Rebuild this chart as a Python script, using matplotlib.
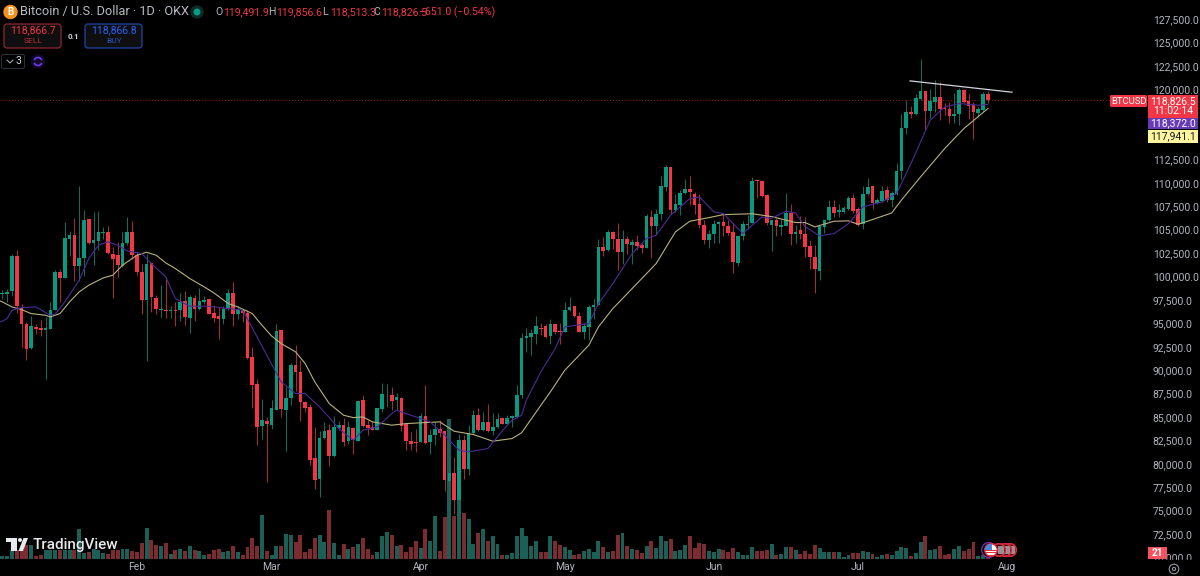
import matplotlib
matplotlib.use("Agg")
import matplotlib.pyplot as plt
from matplotlib.patches import Circle, Rectangle, FancyBboxPatch, Polygon, Arc
from matplotlib.ticker import FuncFormatter

plt.rcParams['font.family'] = ['Roboto', 'DejaVu Sans']

# Daily candles, prices in thousands of USD; [open, high, low, close]
candles = [
[98.11,98.61,97.64,98.25],[98.14,98.71,97.29,98.32],[98.46,102.45,97.89,102.20],[102.20,102.81,96.11,96.83],
[96.68,97.11,92.48,94.94],[94.90,95.15,91.13,92.30],[92.38,95.76,92.23,94.69],[94.58,94.90,93.91,94.44],
[94.48,95.33,93.66,94.26],[94.33,95.69,89.10,94.48],[94.37,97.29,94.37,96.47],[96.40,100.67,96.40,100.49],
[100.46,100.81,97.29,99.85],[99.89,105.83,99.89,104.09],[104.05,104.84,102.24,104.41],[104.41,106.22,99.53,101.13],
[101.13,109.64,99.53,102.02],[101.95,107.15,100.06,106.08],[106.12,106.12,103.45,103.59],[103.59,106.86,101.20,103.87],
[103.80,107.01,102.81,104.80],[104.66,105.30,104.05,104.73],[104.76,105.44,102.45,102.56],[102.41,103.16,97.72,101.84],
[102.27,103.70,99.96,101.20],[101.13,104.73,101.03,103.59],[103.62,106.37,103.34,104.73],[104.73,105.90,101.92,102.27],
[102.31,102.63,100.14,100.49],[100.46,101.31,96.04,97.54],[97.50,102.38,90.99,101.35],[101.42,101.56,96.22,97.82],
[97.75,98.00,96.04,96.50],[96.43,99.07,95.69,96.54],[96.43,99.96,95.61,96.36],[96.36,96.83,95.61,96.43],
[96.40,97.29,94.69,96.33],[96.40,98.28,95.26,97.25],[97.39,98.43,94.80,95.65],[95.58,98.00,93.98,97.82],
[97.72,98.00,95.26,96.50],[96.50,98.82,96.40,97.43],[97.25,97.89,97.11,97.47],[97.57,97.57,95.97,96.01],
[96.15,96.93,95.15,95.61],[95.76,96.75,93.37,95.47],[95.47,96.83,94.97,96.58],[96.50,98.64,96.40,98.28],
[98.28,99.42,94.76,96.01],[96.01,96.83,95.51,96.47],[96.40,96.40,95.15,96.11],[96.15,96.40,91.24,91.31],
[91.41,92.48,85.97,88.46],[88.49,89.10,81.98,83.97],[84.04,86.89,82.62,84.65],[84.58,85.00,78.06,84.29],
[84.12,86.78,83.76,85.93],[85.79,94.90,85.79,94.19],[94.26,94.26,85.00,85.86],[85.79,88.21,81.37,87.03],
[87.03,90.81,86.25,90.52],[90.56,92.66,87.78,89.78],[89.78,91.05,84.58,86.64],[86.61,86.68,85.54,86.00],
[86.07,86.36,79.84,80.38],[80.66,83.94,77.35,78.28],[78.35,83.47,76.46,82.73],[82.73,84.47,82.69,83.54],
[83.58,84.22,79.77,80.87],[80.87,85.11,80.73,83.90],[83.79,84.58,83.58,84.19],[84.19,84.93,81.87,82.37],
[82.44,84.58,82.16,83.94],[83.87,83.94,81.02,82.51],[82.41,86.86,82.41,86.68],[86.78,87.32,83.94,84.04],
[84.12,84.65,83.05,83.87],[83.94,84.58,83.58,83.65],[83.65,86.00,83.58,86.00],[85.86,88.67,85.54,87.43],
[87.21,88.49,86.07,87.28],[87.32,88.21,85.79,86.71],[86.78,87.60,85.72,87.10],[87.03,87.14,83.47,84.04],
[84.22,84.40,81.52,82.48],[82.48,83.40,81.44,82.16],[82.30,83.76,81.27,82.23],[82.30,85.43,82.30,85.11],
[85.08,88.39,82.16,82.26],[82.30,83.76,81.09,83.05],[83.05,84.47,81.98,83.69],[83.76,84.65,82.87,83.33],
[83.47,83.47,77.07,78.24],[78.20,81.09,78.06,79.02],[79.02,80.73,74.68,76.10],[76.10,83.22,74.50,82.58],
[82.55,83.05,78.35,79.41],[79.41,84.19,78.85,83.30],[83.30,85.79,83.15,85.18],[85.18,86.00,83.47,83.58],
[83.58,85.54,83.51,84.51],[84.51,86.36,83.40,83.51],[83.51,85.47,83.05,83.94],[83.94,85.43,83.87,84.83],
[84.93,85.00,84.22,84.29],[84.29,85.18,84.22,84.93],[84.90,85.18,83.94,85.15],[85.00,88.39,84.93,87.39],
[87.32,93.98,87.07,93.45],[93.45,94.55,91.95,93.62],[93.55,94.44,91.59,93.94],[93.90,95.76,92.77,94.69],
[94.55,95.08,93.73,94.41],[94.69,94.97,93.48,93.55],[93.62,95.51,92.77,94.90],[94.90,94.97,93.90,94.12],
[94.23,95.05,92.84,94.12],[94.05,97.29,94.05,96.40],[96.40,97.82,96.33,96.79],[96.82,96.86,95.69,95.76],
[95.76,96.22,94.08,94.08],[94.05,95.08,93.37,94.69],[94.62,96.93,93.27,96.72],[96.75,97.64,95.51,96.93],
[96.93,104.05,96.93,103.16],[103.16,104.23,102.20,102.77],[102.81,104.94,102.73,104.73],[104.76,104.83,102.98,103.98],
[103.98,105.76,100.67,102.63],[102.63,104.94,101.31,103.98],[104.02,104.34,102.45,103.48],[103.34,104.05,101.38,103.70],
[103.70,104.48,102.88,103.30],[103.34,103.70,102.52,103.06],[103.09,106.65,103.09,106.51],[106.37,107.08,101.99,105.44],
[105.44,107.26,104.51,106.72],[106.72,110.71,106.08,109.68],[109.53,111.88,109.14,111.71],[111.67,111.67,106.72,107.15],
[107.15,108.86,106.90,107.72],[107.65,109.29,106.55,108.93],[108.90,110.39,108.79,109.36],[109.36,110.71,107.61,109.04],
[108.86,109.04,106.72,107.65],[107.72,108.79,105.23,105.48],[105.51,106.01,103.52,103.87],[103.87,104.94,103.09,104.59],
[104.51,106.01,103.63,105.58],[105.58,105.94,103.63,105.87],[105.80,106.72,104.30,105.41],[105.37,106.01,104.41,104.66],
[104.73,105.66,100.39,101.56],[101.46,104.34,101.13,104.30],[104.30,105.94,103.87,105.58],[105.51,106.55,105.12,105.62],
[105.66,110.64,105.66,110.25],[110.28,110.35,108.43,110.21],[110.25,110.28,108.50,108.61],[108.68,108.86,105.48,105.66],
[105.47,106.08,102.73,106.01],[106.01,106.29,104.30,105.40],[105.33,106.19,104.41,105.51],[105.40,108.96,105.40,106.75],
[106.75,107.71,103.34,104.51],[104.51,105.47,103.59,104.80],[104.94,106.44,103.98,104.55],[104.59,106.37,102.09,103.16],
[103.23,103.87,100.85,102.09],[102.09,103.34,98.25,100.85],[100.63,105.37,99.67,105.37],[105.30,106.08,104.66,106.01],
[106.01,108.15,105.94,107.40],[107.40,108.22,106.37,106.79],[106.86,107.71,106.37,107.08],[106.93,107.51,106.79,107.29],
[107.26,108.57,107.08,108.39],[108.36,108.79,106.79,107.00],[107.19,107.43,105.37,105.55],[105.65,109.71,105.12,108.79],
[108.79,110.57,108.68,109.57],[109.64,109.75,107.26,107.86],[107.86,108.39,107.71,108.22],[108.11,109.68,107.97,109.14],
[109.21,109.64,107.97,108.22],[108.15,109.14,107.43,108.89],[108.82,112.13,108.75,111.25],[111.25,117.40,110.46,115.91],
[115.91,118.90,115.20,117.58],[117.58,118.19,116.94,117.33],[117.33,119.54,117.22,119.08],[119.00,123.20,118.90,119.82],
[119.82,119.82,115.70,117.65],[117.65,120.07,116.98,118.69],[118.61,120.96,117.58,119.22],[119.22,120.78,116.76,117.87],
[118.01,118.58,117.22,117.90],[117.87,118.65,116.44,117.19],[117.12,119.65,116.44,117.40],[117.33,120.18,116.16,119.90],
[119.90,120.07,118.58,118.65],[118.72,119.54,116.87,118.22],[118.29,118.65,114.66,117.54],[117.44,118.11,117.04,117.87],
[117.80,119.72,117.69,119.47],[119.49,119.86,118.51,118.83],
]
opens = [c[0] for c in candles]
highs = [c[1] for c in candles]
lows = [c[2] for c in candles]
closes = [c[3] for c in candles]

volumes = [10,9,27,27,27,42,42,9,12,27,27,27,27,27,27,27,90,17,22,29,27,17,15,27,27,29,30,24,20,48,92,57,42,39,47,15,27,29,24,39,
27,24,12,14,27,31,20,24,38,20,13,35,64,39,132,24,13,39,39,75,73,51,72,20,30,62,72,51,147,48,12,44,30,37,46,64,30,12,20,70,
81,72,39,42,22,37,53,33,90,53,130,24,126,420,129,237,137,121,46,77,90,53,69,44,12,12,17,70,92,68,39,55,20,22,70,55,42,37,27,12,
15,24,29,22,53,36,22,24,71,77,38,29,27,18,38,55,33,69,53,60,25,27,42,69,33,48,44,24,22,29,27,20,33,22,12,12,36,24,24,27,
44,13,15,36,36,27,15,24,15,42,33,22,22,20,20,6,12,18,18,24,20,15,6,12,15,12,24,36,33,9,18,51,69,27,30,39,12,15,30,38,
24,30,51,10,12,9]

slow_days = [-1,0,2,4,6,9,10,12,14,16,18,21,23,25,28,30,32,34,36,39,42,44,47,49,52,54,56,58,61,63,65,68,71,73,75,77,81,84,88,91,94,98,102,106,108,
113,114,117,122,124,127,131,136,140,143,147,150,156,160,165,167,169,173,176,178,181,185,187,191,196,200,205]
slow_ma = [97.5,97.29,96.75,96.47,96.04,95.86,95.69,96.04,97.29,98.36,99.07,99.85,100.14,101.20,102.27,102.59,102.27,101.45,100.85,99.78,98.89,98.25,97.11,96.75,96.04,94.80,93.65,92.84,91.95,90.70,88.74,86.43,85.18,84.93,85.00,84.47,84.12,84.29,84.40,84.47,83.47,83.12,82.41,82.69,83.30,
86.96,87.68,89.99,92.66,94.62,96.58,98.71,101.38,104.76,105.90,106.29,106.61,106.70,106.40,105.76,105.76,105.30,105.90,105.94,105.58,106.08,106.79,108.15,110.64,113.66,115.80,117.94]

fast_days = [-1,0,1,2,4,7,10,11,13,16,18,20,22,24,26,29,31,34,36,39,43,47,50,53,56,58,61,63,66,68,70,73,75,78,81,82,86,89,92,95,97,101,104,106,108,
109,112,115,117,122,124,127,131,134,136,139,143,145,148,150,154,156,158,160,163,165,167,170,173,176,179,183,186,189,193,196,199,203,205]
fast_ma = [95.1,95.22,95.51,96.40,96.68,96.75,95.86,95.97,97.29,99.60,101.92,103.34,103.70,103.34,102.73,102.45,101.38,99.96,97.64,96.82,96.82,96.58,96.40,93.55,90.65,88.74,87.50,87.50,86.07,84.93,83.76,82.51,83.58,83.94,85.36,85.72,85.00,84.47,83.05,81.44,81.27,81.62,83.51,84.65,85.18,
86.78,89.81,92.30,94.62,94.97,97.11,99.24,102.45,104.05,104.41,106.54,108.32,108.50,106.90,106.72,104.59,105.48,106.36,106.20,106.97,106.79,105.30,104.33,104.59,105.65,107.43,107.97,108.86,112.06,116.69,118.11,118.47,118.29,118.37]

trend_days = [188.8, 210.0]
trend_prices = [120.89, 119.68]

price_ticks = [70,72.5,75,77.5,80,82.5,85,87.5,90,92.5,95,97.5,100,102.5,105,107.5,110,112.5,120,122.5,125,127.5]
month_days = [28,56,87,117,148,178,209]
month_labels = ['Feb','Mar','Apr','May','Jun','Jul','Aug']

last_price = 118.8265

UP, DOWN = '#089981', '#f23645'
UP_VOL, DOWN_VOL = '#1b5f56', '#7c2c30'
GREY = '#b2b5be'
BLACK = '#000000'

W, H = 1200, 576
fig = plt.figure(figsize=(12, 5.76), dpi=100, facecolor=BLACK)
rect = [0, (H - 559) / H, 1148 / W, 559 / H]

days = list(range(len(candles)))
is_up = [c >= o for o, c in zip(opens, closes)]

# volume pane, same area as the price pane, below it
axv = fig.add_axes(rect, facecolor=BLACK, zorder=1)
axv.bar(days, volumes, width=0.82, color=[UP_VOL if u else DOWN_VOL for u in is_up], linewidth=0)
axv.set_ylim(0, 1677)
axv.set_xlim(-0.478, 238.3)
axv.axis('off')

ax = fig.add_axes(rect, zorder=2)
ax.patch.set_alpha(0)
for s in ax.spines.values():
    s.set_visible(False)
colors = [UP if u else DOWN for u in is_up]
wick_colors = ['#0b6f5f' if u else '#a82a35' for u in is_up]
ax.vlines(days, lows, highs, colors=wick_colors, linewidth=0.72, zorder=2)
ax.bar(days, [abs(c - o) for o, c in zip(opens, closes)], bottom=[min(o, c) for o, c in zip(opens, closes)],
       width=0.76, color=colors, linewidth=0, zorder=3)
ax.plot(slow_days, slow_ma, color='#b8b27c', lw=0.8, zorder=4)
ax.plot(fast_days, fast_ma, color='#4b2c96', lw=0.8, zorder=4)
ax.plot(trend_days, trend_prices, color='#d1d4dc', lw=0.9, zorder=5)
ax.axhline(last_price, color='#8a2530', lw=0.7, ls=(0, (1, 2)), zorder=1)
ax.set_xlim(-0.478, 238.3)
ax.set_ylim(69.828, 129.529)
ax.yaxis.tick_right()
ax.set_yticks(price_ticks)
ax.yaxis.set_major_formatter(FuncFormatter(lambda v, p: f"{v * 1000:,.1f}"))
ax.set_xticks(month_days)
ax.set_xticklabels(month_labels)
ax.tick_params(axis='y', length=0, pad=3.4, labelsize=7.5, labelcolor=GREY)
ax.tick_params(axis='x', length=0, pad=2.4, labelsize=7.5, labelcolor=GREY)

# interface chrome in pixel coordinates
ui = fig.add_axes([0, 0, 1, 1], zorder=3)
ui.set_xlim(0, W)
ui.set_ylim(H, 0)
ui.axis('off')
ui.patch.set_alpha(0)


def label(x, y, s, color=GREY, size=7.5, ha='left', weight='normal', **kw):
    return ui.text(x, y, s, color=color, fontsize=size, ha=ha, va='center', fontweight=weight, **kw)


# cover the clipped tail of the lowest price label
ui.add_patch(Rectangle((1148, 559.5), 52, 17, color=BLACK, zorder=1))

# header
ui.add_patch(Circle((10.5, 12), 6.5, color='#f7931a', zorder=2))
label(10.5, 12, 'B', color='white', size=7, ha='center', weight='bold', zorder=3)
label(20, 12, 'Bitcoin / U.S. Dollar · 1D · OKX', size=9.2, color='#b8bbc4')
ui.add_patch(Circle((197, 12), 6, color='#0d2a26', zorder=2))
ui.add_patch(Circle((197, 12), 2.8, color=UP, zorder=3))
x = 215
for key, val, step in [('O', '119,491.9', 0), ('H', '119,856.6', 53), ('L', '118,513.3', 54), ('C', '118,826.5', 51)]:
    x += step
    label(x, 12, key, size=7.6)
    label(x + 8, 12, val, color=DOWN, size=7.6)
label(419, 12, '−651.0 (−0.54%)', color=DOWN, size=7.6)

# sell / buy
ui.add_patch(FancyBboxPatch((4, 24), 57, 24, boxstyle='round,pad=0,rounding_size=3', fc='#0f0f10', ec='#8f2630', lw=0.9))
ui.add_patch(FancyBboxPatch((85, 24), 57, 24, boxstyle='round,pad=0,rounding_size=3', fc='#0f0f10', ec='#1d47a8', lw=0.9))
label(33, 30.5, '118,866.7', color=DOWN, size=7.5, ha='center')
label(33, 41, 'SELL', color='#b92d38', size=6, ha='center')
label(114, 30.5, '118,866.8', color='#2962ff', size=7.5, ha='center')
label(114, 41, 'BUY', color='#2455c5', size=6, ha='center')
label(73, 36.5, '0.1', color='#d1d4dc', size=5.8, ha='center', weight='bold')

# collapsed indicators
ui.add_patch(FancyBboxPatch((1.5, 54.5), 23, 14, boxstyle='round,pad=0,rounding_size=2', fc=BLACK, ec='#2a2e39', lw=0.8))
ui.plot([7, 10, 13], [60, 63, 60], color='#b2b5be', lw=0.7)
label(18.5, 61.5, '3', color='#d1d4dc', size=7.5, ha='center')
ui.add_patch(Circle((38, 61.5), 6.5, color='#130a2a', zorder=2))
ui.add_patch(Arc((38, 61.5), 8, 8, theta1=20, theta2=160, color='#6a3df0', lw=1.2, zorder=3))
ui.add_patch(Arc((38, 61.5), 8, 8, theta1=200, theta2=340, color='#6a3df0', lw=1.2, zorder=3))

# price tags
ui.add_patch(FancyBboxPatch((1110, 95), 37, 12, boxstyle='round,pad=0,rounding_size=1.5', fc=DOWN, ec='none'))
label(1128.5, 101, 'BTCUSD', color='white', size=6.8, ha='center')
ui.add_patch(Rectangle((1148, 95), 50, 22.5, fc=DOWN, ec='none', zorder=2))
label(1173, 101, '118,826.5', color='white', size=7.5, ha='center', zorder=3)
label(1173, 111, '11:02:14', color='white', size=7.5, ha='center', zorder=3)
ui.add_patch(Rectangle((1148, 117.7), 50, 11.6, fc='#673ab7', ec='none', zorder=2))
label(1173, 123.5, '118,372.0', color='white', size=7.5, ha='center', zorder=3)
ui.add_patch(Rectangle((1148, 130.3), 50, 12.4, fc='#fff59d', ec='none', zorder=2))
label(1173, 136.5, '117,941.1', color='#131722', size=7.5, ha='center', zorder=3)
ui.add_patch(Rectangle((1148, 547), 19, 12, fc='#f7525f', ec='none', zorder=2))
label(1157.5, 553.5, '21', color='white', size=7.2, ha='center', weight='bold', zorder=3)
ui.add_patch(Circle((1174, 569), 4.8, fc='none', ec='#9598a1', lw=0.8, zorder=2))
ui.add_patch(Circle((1174, 569), 1.6, fc='none', ec='#9598a1', lw=0.8, zorder=2))

# logo
LOGO = '#e8e9ec'
ui.add_patch(Rectangle((6, 538), 11, 4, fc=LOGO, ec='none', zorder=5))
ui.add_patch(Rectangle((11, 542), 6, 9, fc=LOGO, ec='none', zorder=5))
ui.add_patch(Circle((20, 540), 2, fc=LOGO, ec='none', zorder=5))
ui.add_patch(Polygon([[23.5, 538], [28, 538], [23, 551], [18.5, 551]], fc=LOGO, ec='none', zorder=5))
label(33, 544.5, 'TradingView', color=LOGO, size=11, weight='medium', zorder=5)

# event markers
for cx in (1010, 1005, 999):
    ui.add_patch(Circle((cx, 550), 6.3, fc='#2b0a10', ec='#d9283a', lw=1.0, zorder=6))
    ui.add_patch(Rectangle((cx - 1, 546), 6, 8, fc='#c9c9d0', ec='none', zorder=6, alpha=0.7))
    ui.add_patch(Circle((cx, 550), 6.3, fc='none', ec='#d9283a', lw=1.0, zorder=6))
ui.add_patch(Circle((989, 550), 7.4, fc=BLACK, ec='#7b2fb0', lw=0.9, zorder=7))
flag = Circle((991, 550), 6.3, fc='white', ec='#d9283a', lw=1.0, zorder=8)
ui.add_patch(flag)
for i, yy in enumerate((549.5, 552, 554.5)):
    r = Rectangle((984, yy), 14, 1.2, fc='#e0303f', ec='none', zorder=8)
    ui.add_patch(r)
    r.set_clip_path(flag)
canton = Rectangle((984, 544), 7.5, 5.5, fc='#4f86e0', ec='none', zorder=8)
ui.add_patch(canton)
canton.set_clip_path(flag)

fig.savefig('out.png', dpi=100, facecolor=BLACK)
